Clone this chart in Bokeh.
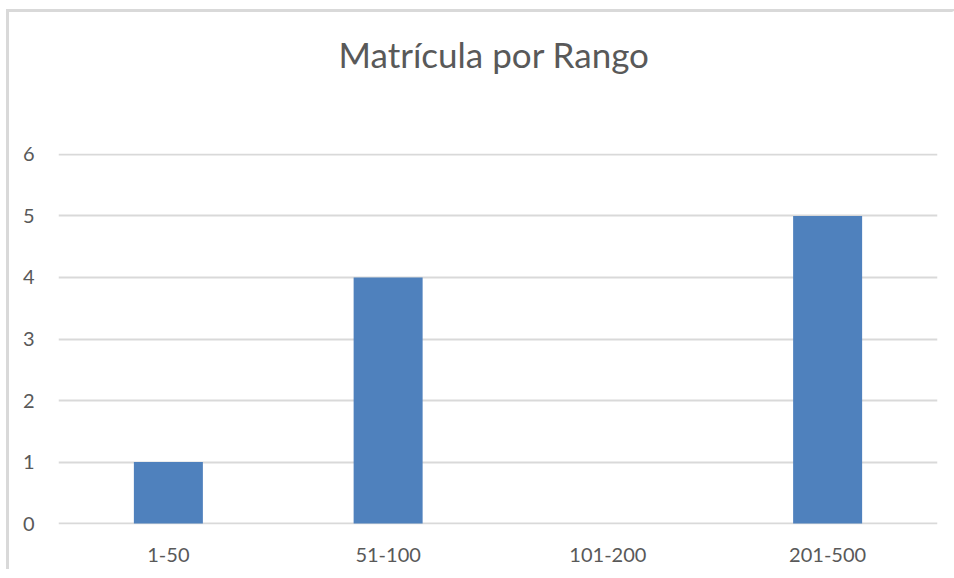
from bokeh.plotting import figure
from bokeh.models import ColumnDataSource, FactorRange, Range1d, FixedTicker, LinearAxis
from bokeh.embed import file_html
from bokeh.resources import INLINE

categories = ["1-50", "51-100", "101-200", "201-500"]
values = [1, 4, 0, 5]
y_ticks = [0, 1, 2, 3, 4, 5, 6]
title_text = "Matrícula por Rango"

FONT = "Lato"
TEXT_COLOR = "#595959"

src = ColumnDataSource(dict(cat=categories, val=values))

p = figure(
    width=952, height=560,
    x_range=FactorRange(*categories, range_padding=0),
    y_range=Range1d(-0.016, 6.016),
    output_backend="svg", toolbar_location=None,
    min_border_left=49, min_border_right=24,
    min_border_top=141, min_border_bottom=48,
    title=title_text,
)
p.styles = {"border-top": "3px solid #d9d9d9", "border-left": "3px solid #d9d9d9",
            "border-right": "6px solid white", "border-bottom": "0px solid white",
            "margin-top": "9px", "margin-left": "6px"}
p.outline_line_color = None
p.background_fill_color = "white"
p.border_fill_color = "white"

x_axis = p.below[0]
y_axis = p.left[0]

# invisible spacer axis between the title and the plot area
spacer = LinearAxis(ticker=FixedTicker(ticks=[]), axis_label=" ",
                    axis_label_standoff=60, axis_label_text_font_size="10px",
                    axis_line_color=None, major_tick_line_color=None,
                    minor_tick_line_color=None, major_tick_out=0, minor_tick_out=0,
                    major_label_standoff=0)
p.add_layout(spacer, "above")

p.title.align = "left"
p.title.offset = 280
p.title.standoff = 10
p.title.text_font = FONT
p.title.text_font_size = "35px"
p.title.text_font_style = "normal"
p.title.text_color = TEXT_COLOR

p.vbar(x="cat", top="val", width=0.314, source=src, fill_color="#4F81BD",
       line_color=None)

p.xgrid.grid_line_color = None
p.ygrid.grid_line_color = "#d9d9d9"
p.ygrid.grid_line_width = 2
p.ygrid.level = "underlay"

y_axis.ticker = FixedTicker(ticks=y_ticks)
for ax in (x_axis, y_axis):
    ax.axis_line_color = None
    ax.major_tick_line_color = None
    ax.minor_tick_line_color = None
    ax.major_label_text_font = FONT
    ax.major_label_text_font_size = "20px"
    ax.major_label_text_color = TEXT_COLOR
y_axis.major_label_standoff = 18
x_axis.major_label_standoff = 17

open("out.html", "w").write(file_html(p, INLINE))
